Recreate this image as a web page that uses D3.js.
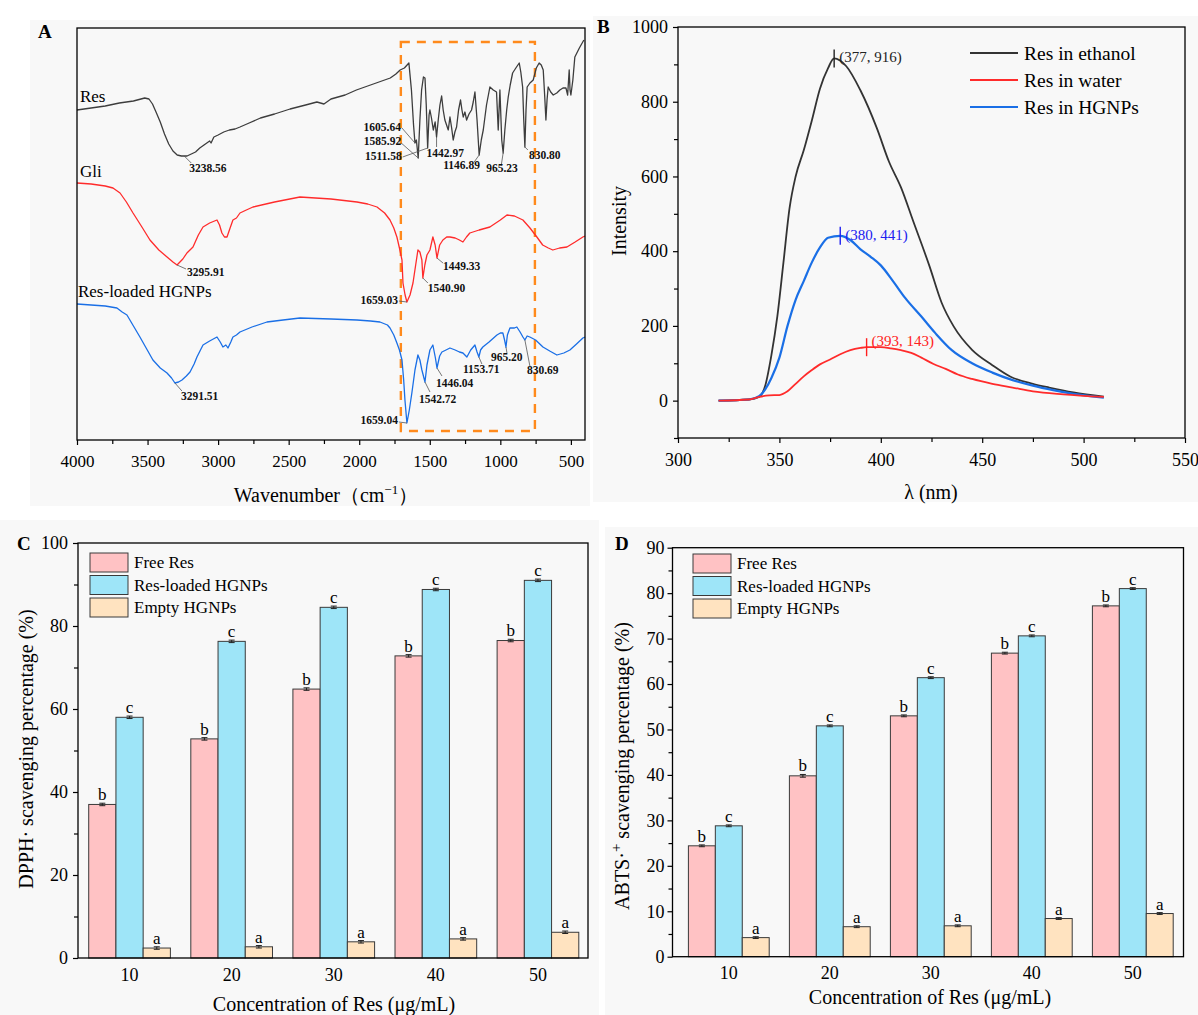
<!DOCTYPE html>
<html>
<head>
<meta charset="utf-8">
<script src="https://cdn.jsdelivr.net/npm/d3@7"></script>
<style>
body { margin: 0; background: #fff; }
svg { display: block; }
</style>
</head>
<body>
<svg width="1198" height="1015"></svg>
<script>
// ---------- data ----------
// A: FTIR, [wavenumber, relative transmittance (offset)]
const resSpec = [[4000,330],[3900,332],[3800,334],[3700,337],[3600,339],[3520,342],[3490,341],[3465,336],[3440,328],[3410,318],[3380,306],[3350,296],[3320,289],[3290,285],[3260,284],[3220,284],[3190,286],[3160,288],[3130,292],[3100,295],[3060,299],[3050,297],[3030,303],[3000,305],[2960,308],[2920,310],[2880,311],[2845,313],[2780,317],[2700,322],[2600,326],[2490,331],[2380,335],[2300,338],[2250,336],[2200,341],[2100,345],[2020,350],[1900,356],[1780,362],[1740,366],[1710,370],[1680,372],[1648,377],[1630,350],[1615,315],[1605,297],[1595,300],[1582,282],[1570,320],[1558,350],[1545,363],[1534,362],[1525,335],[1515,292],[1505,325],[1499,330],[1488,322],[1475,310],[1462,318],[1452,303],[1440,320],[1428,335],[1416,344],[1405,330],[1393,320],[1381,315],[1369,310],[1357,323],[1345,312],[1334,300],[1322,308],[1310,313],[1296,330],[1282,340],[1272,330],[1263,323],[1251,328],[1239,320],[1222,326],[1204,330],[1192,338],[1180,348],[1165,320],[1150,285],[1135,300],[1121,310],[1098,335],[1074,353],[1050,350],[1027,348],[1015,310],[1003,350],[990,300],[980,287],[968,310],[955,330],[944,343],[930,355],[913,367],[890,372],[866,377],[855,368],[842,353],[834,320],[826,293],[818,330],[810,353],[790,357],[767,360],[745,372],[725,377],[710,375],[696,370],[686,345],[677,320],[669,340],[661,353],[643,348],[625,345],[600,347],[578,350],[556,352],[535,352],[523,345],[512,370],[506,350],[500,345],[486,360],[472,383],[440,392],[408,400]];
const gliSpec = [[4000,257],[3900,256],[3800,254],[3745,252],[3695,247],[3650,238],[3603,227],[3540,213],[3483,200],[3420,190],[3362,183],[3320,178],[3291,175],[3250,181],[3221,187],[3178,193],[3140,205],[3107,213],[3060,217],[3008,220],[2990,215],[2973,207],[2955,203],[2937,203],[2915,212],[2895,220],[2870,222],[2845,227],[2800,230],[2753,233],[2600,238],[2420,243],[2200,241],[2016,238],[1940,236],[1874,233],[1820,227],[1782,220],[1755,212],[1733,203],[1715,192],[1697,180],[1690,157],[1675,145],[1662,138],[1640,145],[1619,157],[1600,175],[1584,190],[1570,188],[1556,180],[1549,162],[1535,175],[1520,185],[1499,190],[1478,203],[1462,195],[1449,182],[1430,195],[1407,200],[1380,203],[1357,203],[1320,202],[1290,200],[1265,198],[1240,203],[1216,207],[1150,210],[1074,213],[1000,220],[953,225],[900,224],[840,220],[790,212],[741,203],[700,195],[660,192],[628,190],[580,192],[528,193],[470,198],[415,203],[400,204]];
const hgnpSpec = [[4000,136],[3900,135],[3800,134],[3717,132],[3680,128],[3646,125],[3600,114],[3554,103],[3510,92],[3462,80],[3410,72],[3362,67],[3330,62],[3306,57],[3280,58],[3256,60],[3225,64],[3199,68],[3170,76],[3150,83],[3125,90],[3107,95],[3060,99],[3008,103],[2985,98],[2966,93],[2945,95],[2930,92],[2910,98],[2895,103],[2870,105],[2845,108],[2760,113],[2654,118],[2540,120],[2420,122],[2200,121],[2016,120],[1920,119],[1853,118],[1800,115],[1782,112],[1755,105],[1733,97],[1715,90],[1697,80],[1685,60],[1676,40],[1662,17],[1645,30],[1627,47],[1605,70],[1584,85],[1570,80],[1556,70],[1534,58],[1520,75],[1499,90],[1478,95],[1460,82],[1449,72],[1430,84],[1414,88],[1385,90],[1357,92],[1320,90],[1290,88],[1265,87],[1237,83],[1210,90],[1180,95],[1165,88],[1152,83],[1140,90],[1124,93],[1080,98],[1024,105],[1000,107],[982,107],[970,100],[960,93],[950,105],[932,112],[900,112],[883,113],[860,108],[840,103],[826,100],[810,104],[791,103],[750,100],[698,93],[650,89],[599,85],[550,87],[507,90],[460,96],[415,102],[400,103]];
const ftirNames = ["Res", "Gli", "Res-loaded HGNPs"];
const ftirNameAt = [[3979,338],[3979,263],[3993,143]];
// peak labels: text, wavenumber, value
const ftirPeaks = [
  ["3238.56",3240,284],["1605.64",1605,297],["1585.92",1582,282],["1511.58",1515,292],["1442.97",1452,303],
  ["1146.89",1150,285],["965.23",980,287],["830.80",826,293],
  ["3295.91",3291,175],["1449.33",1449,182],["1540.90",1549,162],["1659.03",1662,138],
  ["3291.51",3306,57],["1659.04",1662,17],["1542.72",1534,58],["1446.04",1449,72],["1153.71",1152,83],["965.20",960,93],["830.69",826,100]
];
const boxWn = [1705, 755];
const boxV = [9, 398];
const ftirMajor = [4000,3500,3000,2500,2000,1500,1000,500];
const ftirMinor = [3750,3250,2750,2250,1750,1250,750];

// B: fluorescence
const ethWl = [320,335,340,343,346,349,352,355,358,362,366,370,374,377,383,390,398,404,410,416,424,430,436,445,455,464,475,483,495,510];
const ethI  = [0,3,10,40,120,226,370,515,600,670,750,835,890,916,895,830,730,640,570,480,360,262,198,136,95,64,45,35,22,11];
const watWl = [320,335,340,345,350,354,358,362,366,370,375,380,385,390,393,400,405,410,415,420,426,432,438,445,455,465,475,490,510];
const watI  = [0,3,10,14,15,25,45,65,82,97,110,124,135,141,143,143,140,135,128,115,98,85,70,58,45,35,25,17,10];
const hgnWl = [320,335,340,343,346,350,354,358,362,366,370,374,380,385,390,395,400,406,412,420,427,435,445,455,465,475,485,495,510];
const hgnI  = [0,3,12,30,60,115,200,270,320,370,410,436,441,430,405,385,362,320,275,225,180,135,100,75,55,40,28,18,8];
const flNames = ["Res in ethanol", "Res in water", "Res in HGNPs"];
const flPeaks = [[377,916],[393,143],[380,441]];

// C, D: scavenging
const conc = ["10","20","30","40","50"];
const groups = ["Free Res","Res-loaded HGNPs","Empty HGNPs"];
const dpphFree   = [37.0,52.8,64.8,72.8,76.5];
const dpphLoaded = [58.0,76.3,84.5,88.8,91.0];
const dpphEmpty  = [2.4,2.7,3.9,4.6,6.2];
const dpphErr    = [[0.3,0.3,0.3,0.3,0.3],[0.3,0.3,0.3,0.3,0.3],[0.3,0.3,0.3,0.3,0.3]];
const abtsFree   = [24.4,39.8,53.0,66.8,77.2];
const abtsLoaded = [28.8,50.8,61.4,70.6,81.0];
const abtsEmpty  = [4.2,6.6,6.8,8.4,9.5];
const abtsErr    = [[0.2,0.3,0.2,0.2,0.2],[0.2,0.2,0.2,0.2,0.2],[0.2,0.2,0.2,0.2,0.2]];
const letters = ["b","c","a"];

// ---------- style ----------
const serif = '"Liberation Serif","Times New Roman",serif';
const colors = {
    ftir: ["#3d3d3d", "#ff2b2b", "#1a6fe6"],
    fl: ["#333333", "#ff2b2b", "#1a6fe6"],
    flLabel: ["#222222", "#ff2020", "#2020f0"],
    bars: ["#ffc2c4", "#9ee5f8", "#ffe3c0"],
    orange: "#ff8a1c"
};

const svg = d3.select("svg").attr("font-family", serif);

// panel backgrounds
const bgs = [[30,20,560,486],[593,16,605,486],[0,520,599,495],[605,527,593,488]];
svg.selectAll("rect.bg").data(bgs).join("rect")
    .attr("class", "bg")
    .attr("x", d => d[0]).attr("y", d => d[1])
    .attr("width", d => d[2]).attr("height", d => d[3])
    .attr("fill", "#f8f8f8");

function styleAxis(g, size) 
{
    g.select(".domain").remove();
    g.selectAll("line").attr("stroke", "#000").attr("stroke-width", 1.2);
    g.selectAll("text").attr("fill", "#000").attr("font-size", size).attr("font-family", serif);
}

function panelLabel(t, x, y) 
{
    svg.append("text").attr("x", x).attr("y", y).attr("font-size", 19)
        .attr("font-weight", "bold").text(t);
}

// ---------- A ----------
{
    const x = d3.scaleLinear().domain([4000, 400]).range([77, 585]);
    const y = d3.scaleLinear().domain([0, 412]).range([440, 28]);
    const g = svg.append("g");

    g.append("rect")
        .attr("x", x(boxWn[0])).attr("y", y(boxV[1]))
        .attr("width", x(boxWn[1]) - x(boxWn[0])).attr("height", y(boxV[0]) - y(boxV[1]))
        .attr("fill", "none").attr("stroke", colors.orange).attr("stroke-width", 2.4)
        .attr("stroke-dasharray", "9,7");

    const line = d3.line().x(d => x(d[0])).y(d => y(d[1]));
    [resSpec, gliSpec, hgnpSpec].forEach((s, i) => 
    {
        g.append("path").attr("d", line(s)).attr("fill", "none")
            .attr("stroke", colors.ftir[i]).attr("stroke-width", 1.3)
            .attr("stroke-linejoin", "round");
    });

    g.selectAll(".sname").data(ftirNames).join("text")
        .attr("x", (d, i) => x(ftirNameAt[i][0]))
        .attr("y", (d, i) => y(ftirNameAt[i][1]))
        .attr("font-size", 17).text(d => d);

    // leader / label offsets relative to peak: [leadDx, leadDy, textDx, textDy, anchor]
    const offs = [
        [7,7,5,16,"start"],[-13,-15,-14,-12,"end"],[-17,-15,-17,-13,"end"],[-25,9,-26,12,"end"],[0,10,-10,20,"start"],
        [-5,7,-36,14,"start"],[-2,13,-17,19,"start"],[3,3,4,12,"start"],
        [9,4,10,11,"start"],[6,5,6,12,"start"],[5,5,5,14,"start"],[-8,-1,-9,2,"end"],
        [7,8,6,17,"start"],[-8,-1,-9,1,"end"],[5,10,-6,21,"start"],[5,8,-1,19,"start"],[3,7,-16,16,"start"],[1,6,-15,14,"start"],[5,26,2,34,"start"]
    ];
    ftirPeaks.forEach((p, i) => 
    {
        const px = x(p[1]), py = y(p[2]), o = offs[i];
        g.append("line").attr("x1", px).attr("y1", py)
            .attr("x2", px + o[0]).attr("y2", py + o[1])
            .attr("stroke", "#555").attr("stroke-width", 0.8);
        g.append("text").attr("x", px + o[2]).attr("y", py + o[3])
            .attr("text-anchor", o[4]).attr("font-size", 11.5).attr("font-weight", "bold")
            .attr("fill", "#111").text(p[0]);
    });

    g.append("rect").attr("x", 77).attr("y", 28).attr("width", 508).attr("height", 412)
        .attr("fill", "none").attr("stroke", "#000").attr("stroke-width", 1.3);

    const ax = g.append("g").attr("transform", "translate(0,440)")
        .call(d3.axisBottom(x).tickValues(ftirMajor).tickSize(5).tickPadding(10).tickFormat(d3.format("d")));
    styleAxis(ax, 17);
    const axm = g.append("g").attr("transform", "translate(0,440)")
        .call(d3.axisBottom(x).tickValues(ftirMinor).tickSize(4).tickFormat(""));
    styleAxis(axm, 17);

    const t = g.append("text").attr("x", 326).attr("y", 502).attr("text-anchor", "middle").attr("font-size", 20);
    t.append("tspan").text("Wavenumber（cm");
    t.append("tspan").attr("dy", -8).attr("font-size", 13).text("−1");
    t.append("tspan").attr("dy", 8).text("）");

    panelLabel("A", 38, 38);
}

// ---------- B ----------
{
    const x = d3.scaleLinear().domain([300, 550]).range([678, 1185]);
    const y = d3.scaleLinear().domain([-100, 1000]).range([438, 27]);
    const g = svg.append("g");

    const line = d3.line().x(d => x(d[0])).y(d => y(d[1])).curve(d3.curveMonotoneX);
    const series = [d3.zip(ethWl, ethI), d3.zip(watWl, watI), d3.zip(hgnWl, hgnI)];
    // draw ethanol, HGNPs, then water (red on top)
    [0, 2, 1].forEach(i => 
    {
        g.append("path").attr("d", line(series[i])).attr("fill", "none")
            .attr("stroke", colors.fl[i]).attr("stroke-width", i === 2 ? 2.2 : 1.8)
            .attr("stroke-linejoin", "round");
    });

    flPeaks.forEach((p, i) => 
    {
        const px = x(p[0]), py = y(p[1]);
        g.append("line").attr("x1", px).attr("x2", px).attr("y1", py - 9).attr("y2", py + 9)
            .attr("stroke", i === 0 ? "#222" : colors.flLabel[i]).attr("stroke-width", 1.4);
        g.append("text").attr("x", px + 5).attr("y", py + (i === 1 ? -1 : 4))
            .attr("font-size", 15).attr("fill", colors.flLabel[i])
            .text(`(${p[0]}, ${p[1]})`);
    });

    g.append("rect").attr("x", 678).attr("y", 27).attr("width", 507).attr("height", 411)
        .attr("fill", "none").attr("stroke", "#000").attr("stroke-width", 1.3);

    const ax = g.append("g").attr("transform", "translate(0,438)")
        .call(d3.axisBottom(x).tickValues(d3.range(300, 551, 50)).tickSize(5).tickPadding(10));
    styleAxis(ax, 18);
    const axm = g.append("g").attr("transform", "translate(0,438)")
        .call(d3.axisBottom(x).tickValues(d3.range(325, 550, 50)).tickSize(4).tickFormat(""));
    styleAxis(axm, 18);
    const ay = g.append("g").attr("transform", "translate(678,0)")
        .call(d3.axisLeft(y).tickValues(d3.range(0, 1001, 200)).tickSize(5).tickPadding(5).tickFormat(d3.format("d")));
    styleAxis(ay, 18);
    const aym = g.append("g").attr("transform", "translate(678,0)")
        .call(d3.axisLeft(y).tickValues(d3.range(-100, 1000, 200)).tickSize(4).tickFormat(""));
    styleAxis(aym, 18);

    g.append("text").attr("transform", "translate(626,221) rotate(-90)")
        .attr("text-anchor", "middle").attr("font-size", 20).text("Intensity");
    g.append("text").attr("x", 931).attr("y", 499).attr("text-anchor", "middle")
        .attr("font-size", 20).text("λ (nm)");

    const lg = g.selectAll(".lg").data(flNames).join("g")
        .attr("transform", (d, i) => `translate(970,${53 + i * 27})`);
    lg.append("line").attr("x1", 0).attr("x2", 48)
        .attr("stroke", (d, i) => colors.fl[i]).attr("stroke-width", 2);
    lg.append("text").attr("x", 54).attr("y", 7).attr("font-size", 19.5).text(d => d);

    panelLabel("B", 597, 33);
}

// ---------- C & D ----------
function barPanel(o) 
{
    const g = svg.append("g");
    const x0 = d3.scaleBand().domain(conc).range(o.xr).paddingInner(0.2).paddingOuter(0.1);
    const x1 = d3.scaleBand().domain(groups).range([0, x0.bandwidth()]);
    const y = d3.scaleLinear().domain([0, o.yMax]).range([o.yBot, o.yTop]);

    const rows = conc.map((c, i) => ({
        c,
        vals: groups.map((gname, j) => ({ gname, j, v: o.series[j][i], e: o.err[j][i] }))
    }));

    const grp = g.selectAll(".grp").data(rows).join("g")
        .attr("transform", d => `translate(${x0(d.c)},0)`);

    grp.selectAll("rect").data(d => d.vals).join("rect")
        .attr("x", d => x1(d.gname)).attr("y", d => y(d.v))
        .attr("width", x1.bandwidth()).attr("height", d => y(0) - y(d.v))
        .attr("fill", d => colors.bars[d.j]).attr("stroke", "#3a3a3a").attr("stroke-width", 1);

    grp.selectAll(".err").data(d => d.vals).join("path")
        .attr("class", "err")
        .attr("d", d => 
        {
            const cx = x1(d.gname) + x1.bandwidth() / 2;
            const a = y(d.v + d.e), b = y(d.v - d.e);
            return `M${cx - 3},${a}H${cx + 3}M${cx},${a}V${b}M${cx - 3},${b}H${cx + 3}`;
        })
        .attr("stroke", "#222").attr("stroke-width", 1).attr("fill", "none");

    grp.selectAll(".let").data(d => d.vals).join("text")
        .attr("class", "let")
        .attr("x", d => x1(d.gname) + x1.bandwidth() / 2)
        .attr("y", d => y(d.v + d.e) - 3)
        .attr("text-anchor", "middle").attr("font-size", 17)
        .text(d => letters[d.j]);

    g.append("rect").attr("x", o.axisX).attr("y", o.yTop)
        .attr("width", o.right - o.axisX).attr("height", o.yBot - o.yTop)
        .attr("fill", "none").attr("stroke", "#000").attr("stroke-width", 1.3);

    const ay = g.append("g").attr("transform", `translate(${o.axisX},0)`)
        .call(d3.axisLeft(y).tickValues(d3.range(0, o.yMax + 1, o.major)).tickSize(5).tickPadding(o.pad));
    styleAxis(ay, 18);
    const aym = g.append("g").attr("transform", `translate(${o.axisX},0)`)
        .call(d3.axisLeft(y).tickValues(d3.range(o.major / 2, o.yMax, o.major)).tickSize(4).tickFormat(""));
    styleAxis(aym, 18);
    const ax = g.append("g").attr("transform", `translate(0,${o.yBot})`)
        .call(d3.axisBottom(x0).tickSize(0).tickPadding(10));
    styleAxis(ax, 18);

    // legend
    const lg = g.selectAll(".lg").data(groups).join("g")
        .attr("transform", (d, i) => `translate(${o.legX},${o.legY + i * 22.5})`);
    lg.append("rect").attr("width", 38).attr("height", 19)
        .attr("fill", (d, i) => colors.bars[i]).attr("stroke", "#3a3a3a").attr("stroke-width", 1);
    lg.append("text").attr("x", 44).attr("y", 15).attr("font-size", 17).text(d => d);

    g.append("text").attr("x", o.xTitle[0]).attr("y", o.xTitle[1]).attr("text-anchor", "middle")
        .attr("font-size", 20).text("Concentration of Res (μg/mL)");

    const yt = g.append("text").attr("transform", `translate(${o.yTitle[0]},${o.yTitle[1]}) rotate(-90)`)
        .attr("text-anchor", "middle").attr("font-size", 20);
    o.yText(yt);
}

barPanel({
    xr: [78.5, 589], axisX: 78, right: 588, yTop: 543, yBot: 958, yMax: 100, major: 20, pad: 5,
    series: [dpphFree, dpphLoaded, dpphEmpty], err: dpphErr,
    legX: 90, legY: 553, xTitle: [334, 1011], yTitle: [33, 749],
    yText: t => t.text("DPPH· scavenging percentage (%)")
});
panelLabel("C", 17, 550);

barPanel({
    xr: [678.3, 1183.3], axisX: 672.5, right: 1183.5, yTop: 547.7, yBot: 956.7, yMax: 90, major: 10, pad: 3,
    series: [abtsFree, abtsLoaded, abtsEmpty], err: abtsErr,
    legX: 693, legY: 554, xTitle: [930, 1004], yTitle: [629, 766],
    yText: t => 
    {
        t.append("tspan").text("ABTS·");
        t.append("tspan").attr("dy", -8).attr("font-size", 15).text("+");
        t.append("tspan").attr("dy", 8).text(" scavenging percentage (%)");
    }
});
panelLabel("D", 615, 550);
</script>
</body>
</html>
